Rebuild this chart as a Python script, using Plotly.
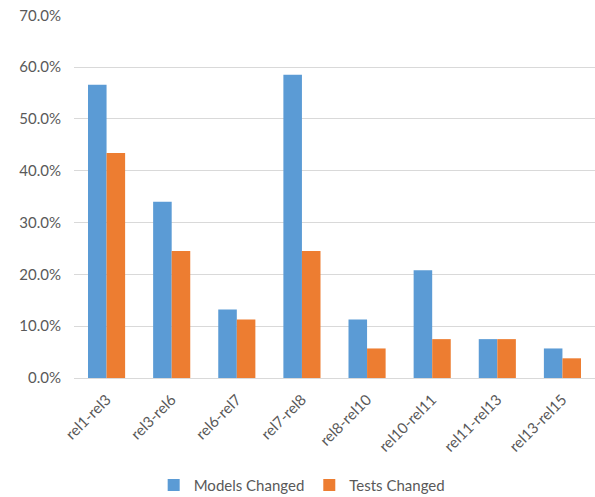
import plotly.graph_objects as go

categories = ["rel1-rel3", "rel3-rel6", "rel6-rel7", "rel7-rel8",
              "rel8-rel10", "rel10-rel11", "rel11-rel13", "rel13-rel15"]
models_changed = [56.6, 34.0, 13.2, 58.5, 11.3, 20.8, 7.5, 5.7]
tests_changed = [43.4, 24.5, 11.3, 24.5, 5.7, 7.5, 7.5, 3.8]
y_ticks = [0, 10, 20, 30, 40, 50, 60, 70]

FONT = "Lato, Carlito, 'Liberation Sans', sans-serif"
GRAY = "#595959"

fig = go.Figure()
fig.add_trace(go.Bar(name="Models Changed", x=categories, y=models_changed,
                     marker=dict(color="#5B9BD5", line=dict(width=0))))
fig.add_trace(go.Bar(name="Tests Changed", x=categories, y=tests_changed,
                     marker=dict(color="#ED7D31", line=dict(width=0))))

fig.update_layout(
    width=595, height=497,
    margin=dict(l=74, r=0, t=15, b=119, autoexpand=False),
    paper_bgcolor="white", plot_bgcolor="white",
    barmode="group", bargap=0.43, bargroupgap=0,
    font=dict(family=FONT, size=15, color=GRAY),
    showlegend=True,
    legend=dict(orientation="h", xref="paper", yref="paper",
                x=0.437, xanchor="center", y=-0.25, yanchor="top",
                font=dict(family=FONT, size=15, color=GRAY),
                itemwidth=30, traceorder="normal"),
    xaxis=dict(tickangle=-45, showgrid=False, showline=True,
               linecolor="#D9D9D9", linewidth=1, ticks="", automargin=False,
               ticklabelstandoff=6,
               tickfont=dict(family=FONT, size=15, color=GRAY)),
    yaxis=dict(range=[0, 70.05], tickvals=y_ticks,
               ticktext=[f"{v:.1f}%" for v in y_ticks],
               showgrid=True, gridcolor="#D9D9D9", gridwidth=1,
               zeroline=False, showline=False, ticks="", automargin=False,
               ticklabelstandoff=12,
               tickfont=dict(family=FONT, size=15, color=GRAY)),
)

fig.write_html("out.html", config={"displayModeBar": False},
               post_script="document.body.style.margin='0';document.body.style.padding='0';")
